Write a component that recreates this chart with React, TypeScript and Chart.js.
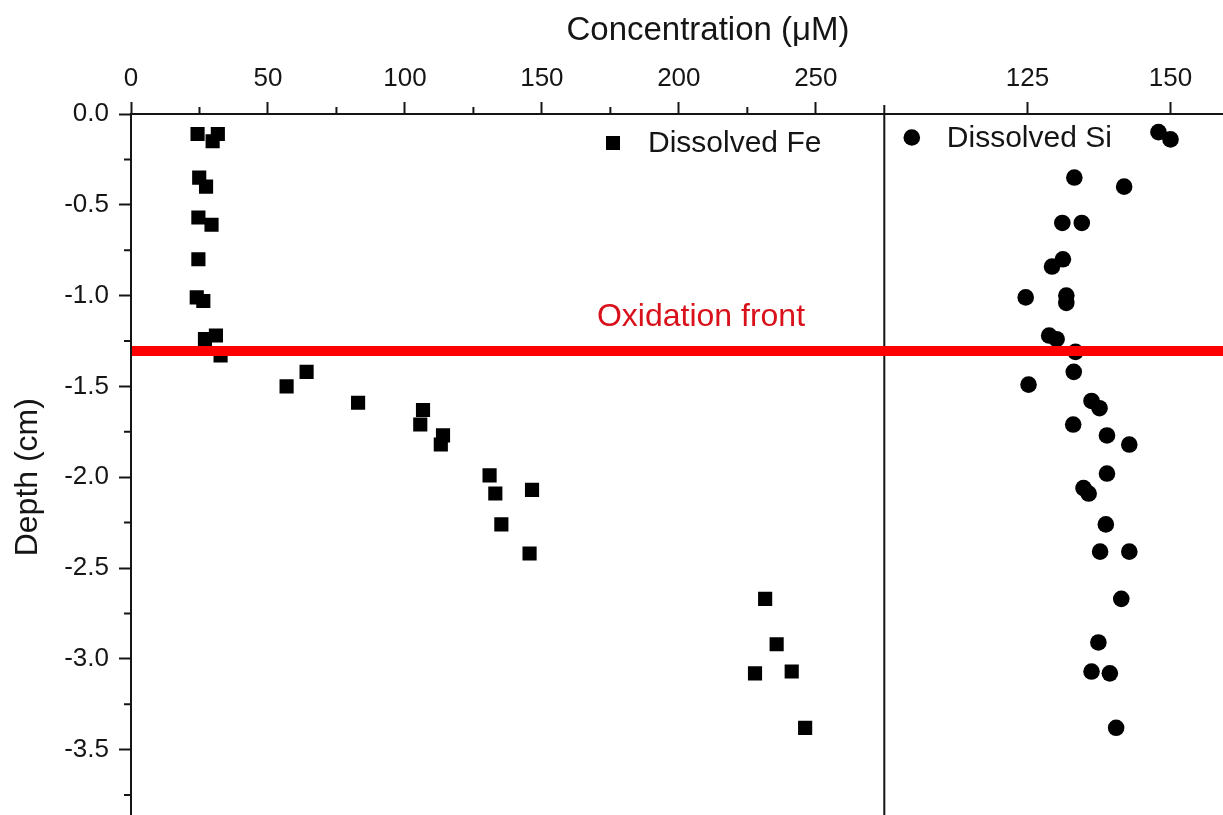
import React, { useEffect, useRef } from "react";
import { Chart, registerables } from "chart.js";

Chart.register(...registerables);

// ---- Data ----
const FE_CONC = [24.3, 31.7, 29.8, 24.9, 27.4, 24.6, 29.4, 24.6, 24.0, 26.4, 27.0, 31.0, 32.7, 64.1, 56.8, 82.9, 106.6, 105.6, 113.9, 113.1, 130.9, 133.0, 146.4, 135.2, 145.5, 231.5, 235.7, 227.8, 241.2, 246.1];
const FE_DEPTH = [-0.11, -0.11, -0.15, -0.35, -0.40, -0.57, -0.61, -0.80, -1.01, -1.03, -1.24, -1.22, -1.33, -1.42, -1.50, -1.59, -1.63, -1.71, -1.77, -1.82, -1.99, -2.09, -2.07, -2.26, -2.42, -2.67, -2.92, -3.08, -3.07, -3.38];
const SI_CONC = [147.9, 150.0, 133.2, 141.9, 131.1, 134.5, 131.2, 129.3, 124.7, 131.8, 131.8, 128.8, 130.1, 133.4, 133.1, 125.2, 136.2, 137.6, 133.0, 138.9, 142.8, 138.9, 134.8, 135.7, 138.7, 137.7, 142.8, 141.4, 137.4, 136.2, 139.4, 140.5];
const SI_DEPTH = [-0.10, -0.14, -0.35, -0.40, -0.60, -0.60, -0.80, -0.84, -1.01, -1.00, -1.04, -1.22, -1.24, -1.31, -1.42, -1.49, -1.58, -1.62, -1.71, -1.77, -1.82, -1.98, -2.06, -2.09, -2.26, -2.41, -2.41, -2.67, -2.91, -3.07, -3.08, -3.38];

const FE_TICKS = [0, 50, 100, 150, 200, 250];
const FE_MINOR = [25, 75, 125, 175, 225];
const SI_TICKS = [125, 150];
const DEPTH_TICKS = [0, -0.5, -1.0, -1.5, -2.0, -2.5, -3.0, -3.5];
const DEPTH_MINOR = [-0.25, -0.75, -1.25, -1.75, -2.25, -2.75, -3.25, -3.75];

const FE_RANGE = [0, 275];
const SI_RANGE = [100, 170];
const DEPTH_RANGE = [-4, 0];
const OXIDATION_DEPTH = -1.305;

const LABEL_FE = "Dissolved Fe";
const LABEL_SI = "Dissolved Si";
const X_TITLE = "Concentration (\u03BCM)";
const Y_TITLE = "Depth (cm)";
const FRONT_LABEL = "Oxidation front";

const FONT = "'Liberation Sans', Arial, Helvetica, sans-serif";
const INK = "#151515";

const overlay = {
  id: "overlay",
  beforeDatasetsDraw(chart: any) {
    const { ctx, chartArea, scales } = chart;
    const fe = scales.xFe;
    const si = scales.xSi;
    const y = scales.y;
    ctx.save();
    ctx.strokeStyle = INK;
    ctx.lineWidth = 2;
    ctx.beginPath();
    FE_MINOR.forEach((v) => {
      const px = fe.getPixelForValue(v);
      ctx.moveTo(px, chartArea.top);
      ctx.lineTo(px, chartArea.top - 7);
    });
    DEPTH_MINOR.forEach((v) => {
      const py = y.getPixelForValue(v);
      ctx.moveTo(chartArea.left, py);
      ctx.lineTo(chartArea.left - 7, py);
    });
    ctx.stroke();
    ctx.beginPath();
    ctx.moveTo(si.left, chartArea.top - 9);
    ctx.lineTo(si.left, chartArea.bottom);
    ctx.stroke();
    ctx.restore();
  },
  afterDatasetsDraw(chart: any) {
    const { ctx, chartArea, scales } = chart;
    const y = scales.y;
    const fe = scales.xFe;
    const si = scales.xSi;
    ctx.save();
    const ly = y.getPixelForValue(OXIDATION_DEPTH);
    ctx.strokeStyle = "#ff0000";
    ctx.lineWidth = 10;
    ctx.beginPath();
    ctx.moveTo(chartArea.left + 1, ly);
    ctx.lineTo(chartArea.right, ly);
    ctx.stroke();
    ctx.fillStyle = "#d8111b";
    ctx.font = `32px ${FONT}`;
    ctx.textAlign = "center";
    ctx.textBaseline = "alphabetic";
    ctx.fillText(FRONT_LABEL, fe.left + 570, ly - 25);

    ctx.fillStyle = "#000";
    ctx.font = `30px ${FONT}`;
    ctx.textAlign = "left";
    ctx.textBaseline = "middle";
    const feX = fe.left + 482;
    const feY = chartArea.top + 29;
    ctx.fillRect(feX - 7, feY - 7, 14, 14);
    ctx.fillStyle = INK;
    ctx.fillText(LABEL_FE, feX + 35, feY + 1);
    const siX = si.left + 27.5;
    const siY = chartArea.top + 23.5;
    ctx.fillStyle = "#000";
    ctx.beginPath();
    ctx.arc(siX, siY, 8.3, 0, Math.PI * 2);
    ctx.fill();
    ctx.fillStyle = INK;
    ctx.fillText(LABEL_SI, siX + 35, siY + 1);

    ctx.font = `33px ${FONT}`;
    ctx.textAlign = "center";
    ctx.textBaseline = "alphabetic";
    ctx.fillText(X_TITLE, (chartArea.left + chartArea.right) / 2, 40);
    ctx.restore();
  },
};

function topAxis(range: number[], ticks: number[], stackWeight: number, weight: number, tickFont: any) {
  return {
    type: "linear",
    position: "top",
    stack: "conc",
    stackWeight,
    weight,
    min: range[0],
    max: range[1],
    afterBuildTicks: (s: any) => {
      s.ticks = ticks.map((v) => ({ value: v }));
    },
    afterFit: (s: any) => {
      s.height = 114;
    },
    ticks: {
      autoSkip: false,
      maxRotation: 0,
      padding: 8,
      color: INK,
      font: tickFont,
      callback: (v: any) => String(v),
    },
    grid: {
      drawOnChartArea: false,
      drawTicks: true,
      tickLength: 12,
      tickWidth: 2,
      tickColor: INK,
    },
    border: { display: true, color: INK, width: 2 },
  };
}

export default function App() {
  const ref = useRef<HTMLCanvasElement | null>(null);

  useEffect(() => {
    if (!ref.current) return;
    const tickFont = { size: 26, family: FONT };
    const chart = new Chart(ref.current, {
      type: "scatter",
      data: {
        datasets: [
          {
            label: LABEL_FE,
            data: FE_CONC.map((x, i) => ({ x, y: FE_DEPTH[i] })),
            xAxisID: "xFe",
            yAxisID: "y",
            pointStyle: "rect",
            pointRadius: 10,
            pointBorderWidth: 0,
            backgroundColor: "#000",
            borderColor: "#000",
          },
          {
            label: LABEL_SI,
            data: SI_CONC.map((x, i) => ({ x, y: SI_DEPTH[i] })),
            xAxisID: "xSi",
            yAxisID: "y",
            pointStyle: "circle",
            pointRadius: 8.3,
            pointBorderWidth: 0,
            backgroundColor: "#000",
            borderColor: "#000",
          },
        ],
      },
      options: {
        responsive: false,
        animation: false,
        events: [],
        layout: { padding: { left: 5, top: 0, right: 5, bottom: 0 } },
        plugins: {
          legend: { display: false },
          tooltip: { enabled: false },
          title: { display: false },
        },
        scales: {
          xFe: topAxis(FE_RANGE, FE_TICKS, 753.3, 1, tickFont),
          xSi: topAxis(SI_RANGE, SI_TICKS, 400.7, 0, tickFont),
          y: {
            type: "linear",
            position: "left",
            min: DEPTH_RANGE[0],
            max: DEPTH_RANGE[1],
            afterBuildTicks: (s: any) => {
              s.ticks = DEPTH_TICKS.map((v) => ({ value: v }));
            },
            afterFit: (s: any) => {
              s.width = 126;
            },
            ticks: {
              autoSkip: false,
              padding: 10,
              color: INK,
              font: tickFont,
              callback: (v: any) => Number(v).toFixed(1),
            },
            grid: {
              drawOnChartArea: false,
              drawTicks: true,
              tickLength: 12,
              tickWidth: 2,
              tickColor: INK,
            },
            border: { display: true, color: INK, width: 2 },
            title: {
              display: true,
              text: Y_TITLE,
              color: INK,
              font: { size: 32, family: FONT },
              padding: { top: 4, bottom: 4 },
            },
          },
        },
      },
      plugins: [overlay],
    } as any);
    return () => chart.destroy();
  }, []);

  return (
    <div
      style={{
        position: "fixed",
        left: 0,
        top: 0,
        width: 1223,
        height: 815,
        overflow: "hidden",
        background: "#fff",
      }}
    >
      <canvas ref={ref} width={1295} height={866} style={{ display: "block" }} />
    </div>
  );
}
